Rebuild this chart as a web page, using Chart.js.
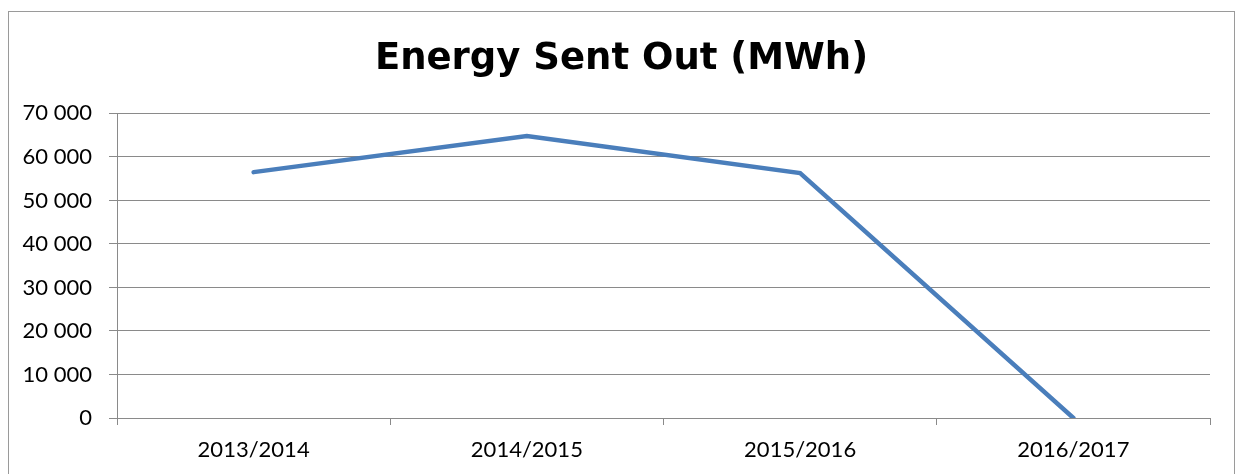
<!DOCTYPE html>
<html>
<head>
<meta charset="utf-8">
<script src="https://cdn.jsdelivr.net/npm/chart.js@4/dist/chart.umd.min.js"></script>
<style>
  html, body { margin: 0; padding: 0; background: #fff; }
  #wrap { position: relative; width: 1237px; height: 474px; overflow: hidden; }
  #frame { position: absolute; left: 8px; top: 11px; width: 1227px; height: 480px; border: 1px solid #9a9a9a; box-sizing: border-box; }
  canvas { position: absolute; left: 0; top: 0; }
</style>
</head>
<body>
<div id="wrap">
  <div id="frame"></div>
  <canvas id="c" width="1237" height="474"></canvas>
</div>
<script>
const categories = ["2013/2014", "2014/2015", "2015/2016", "2016/2017"];
const energySentOut = [56500, 64800, 56300, 0];
const yTicks = [0, 10000, 20000, 30000, 40000, 50000, 60000, 70000];
const titleText = "Energy Sent Out (MWh)";

function fmt(v) {
  return String(v).replace(/\B(?=(\d{3})+(?!\d))/g, " ");
}

const gridColor = "#8a8a8a";

new Chart(document.getElementById("c"), {
  type: "line",
  data: {
    labels: categories,
    datasets: [{
      data: energySentOut,
      borderColor: "#4a7ebb",
      borderWidth: 4.5,
      pointRadius: 0,
      pointHoverRadius: 0,
      tension: 0,
      borderCapStyle: "round",
      borderJoinStyle: "miter",
      fill: false
    }]
  },
  options: {
    responsive: false,
    animation: false,
    devicePixelRatio: 1,
    layout: { padding: { left: 8, right: 2, top: 0, bottom: 0 } },
    plugins: {
      legend: { display: false },
      tooltip: { enabled: false },
      title: {
        display: true,
        text: titleText,
        color: "#000",
        font: { family: "'DejaVu Sans', 'Liberation Sans', sans-serif", size: 37, weight: "bold", lineHeight: 1.2 },
        padding: { top: 37, bottom: 32 }
      }
    },
    scales: {
      x: {
        type: "category",
        offset: true,
        grid: {
          offset: true,
          drawOnChartArea: false,
          drawTicks: true,
          tickLength: 7,
          color: gridColor,
          lineWidth: 1
        },
        border: { display: true, color: gridColor, width: 1 },
        ticks: {
          color: "#000",
          font: { family: "Lato, 'Open Sans', sans-serif", size: 22 },
          padding: 12,
          maxRotation: 0,
          autoSkip: false
        },
        afterFit: (s) => { s.height = 56; }
      },
      y: {
        min: 0,
        max: 70000,
        afterBuildTicks: (s) => { s.ticks = yTicks.map(v => ({ value: v })); },
        grid: {
          drawTicks: true,
          tickLength: 8,
          color: gridColor,
          lineWidth: 1
        },
        border: { display: true, color: gridColor, width: 1 },
        ticks: {
          color: "#000",
          font: { family: "Lato, 'Open Sans', sans-serif", size: 22 },
          padding: 17,
          callback: (v) => fmt(v)
        },
        afterFit: (s) => { s.width = 109; }
      },
      yRightSpace: {
        position: "right",
        display: true,
        min: 0,
        max: 70000,
        grid: { display: false, drawTicks: false },
        border: { display: false },
        ticks: { display: false },
        afterFit: (s) => { s.width = 25; }
      }
    }
  }
});
</script>
</body>
</html>
